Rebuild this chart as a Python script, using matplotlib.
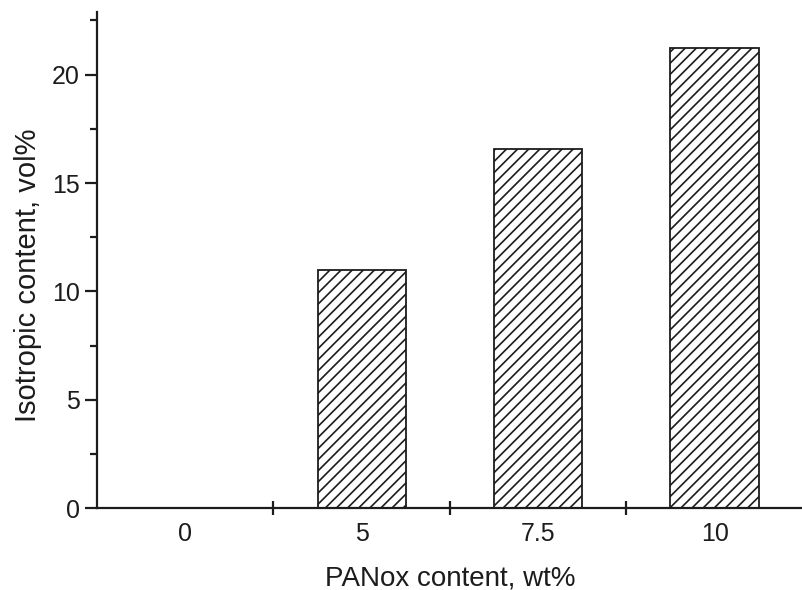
import matplotlib
matplotlib.use("Agg")
import matplotlib.pyplot as plt
from matplotlib.ticker import MultipleLocator

categories = ["0", "5", "7.5", "10"]
isotropic = [0.0, 11.0, 16.55, 21.25]

plt.rcParams['font.family'] = ['Liberation Sans', 'DejaVu Sans']
plt.rcParams['hatch.linewidth'] = 1.2
ink = '#1c1c1c'

fig = plt.figure(figsize=(8.03, 5.90), dpi=100)
ax = fig.add_axes([0.1208, 0.1385, 0.879, 0.8415])

pos = list(range(len(categories)))
ax.bar(pos, isotropic, width=0.5, color='white', edgecolor=ink,
       linewidth=1.3, hatch='///')

ax.set_xlim(-0.5, len(categories) - 0.5)
ax.set_ylim(0, 22.9)

ax.spines['top'].set_visible(False)
ax.spines['right'].set_visible(False)
for s in ('left', 'bottom'):
    ax.spines[s].set_linewidth(1.6)
    ax.spines[s].set_color(ink)

# category labels at centres, tick marks between categories
ax.set_xticks(pos)
ax.set_xticklabels(categories)
ax.set_xticks([p + 0.5 for p in pos[:-1]], minor=True)
ax.tick_params(axis='x', which='major', length=0, pad=10,
               labelsize=18, labelcolor=ink)
ax.tick_params(axis='x', which='minor', direction='inout', length=10,
               width=1.6, color=ink)

ax.yaxis.set_major_locator(MultipleLocator(5))
ax.yaxis.set_minor_locator(MultipleLocator(2.5))
ax.tick_params(axis='y', which='major', length=8.5, width=1.6, color=ink,
               labelsize=18, labelcolor=ink, pad=4)
ax.tick_params(axis='y', which='minor', length=5, width=1.6, color=ink)

ax.set_xlabel('PANox content, wt%', fontsize=20, color=ink, labelpad=14)
ax.set_ylabel('Isotropic content, vol%', fontsize=21, color=ink)
ax.yaxis.set_label_coords(-0.078, 0.469)

fig.savefig('out.png', dpi=100)
